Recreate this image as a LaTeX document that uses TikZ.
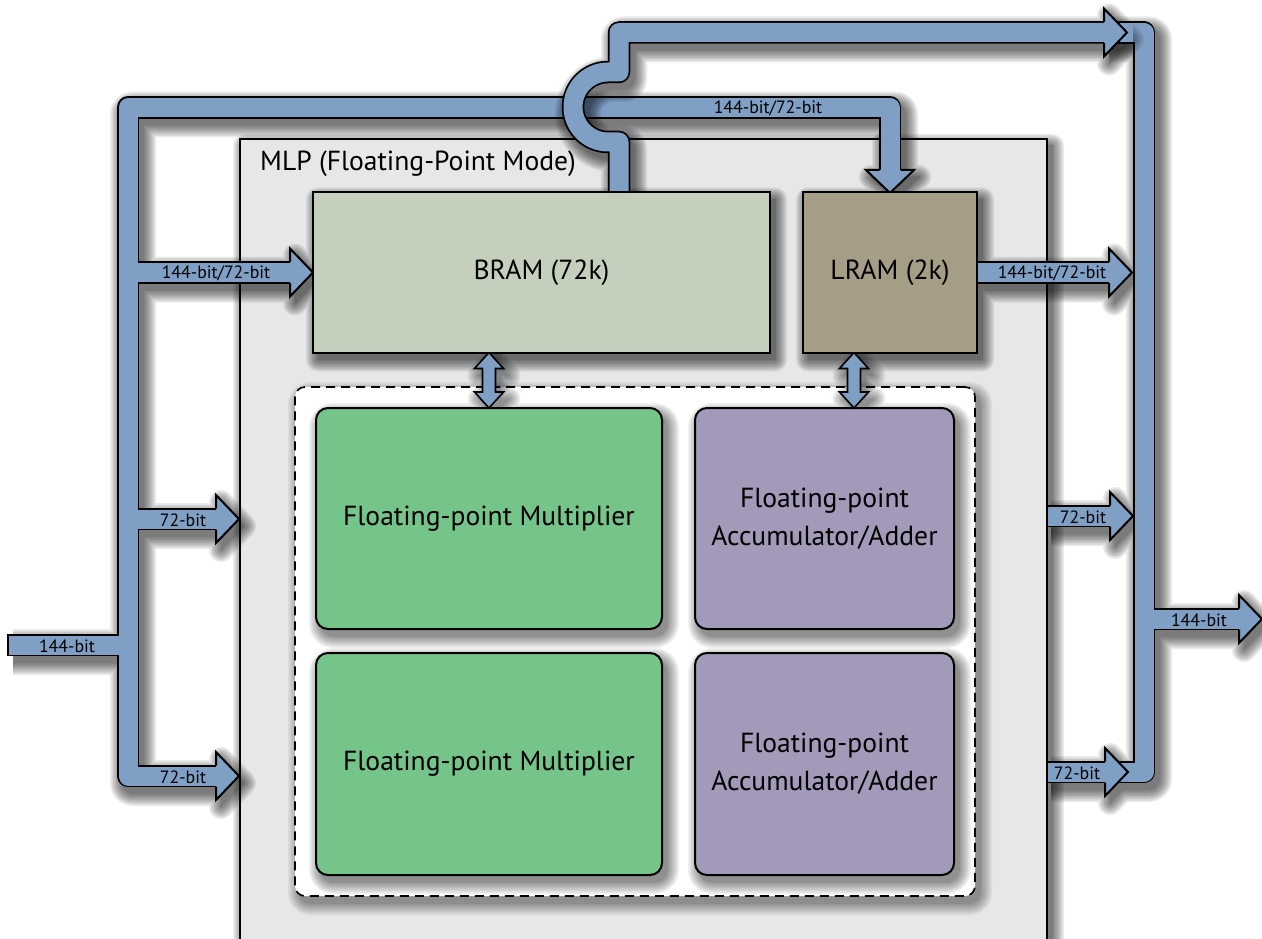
\documentclass[tikz,border=0pt]{standalone}
\usepackage{fontspec}
\setmainfont{PT Sans}
\definecolor{busblue}{RGB}{127,159,197}
\definecolor{mlpgray}{RGB}{230,231,232}
\definecolor{bramc}{RGB}{196,208,187}
\definecolor{lramc}{RGB}{165,157,134}
\definecolor{mulc}{RGB}{117,196,138}
\definecolor{accc}{RGB}{162,154,184}
\tikzset{
  casing/.style={draw=black,line width=22.5pt,line join=round},
  busfill/.style={draw=busblue,line width=19pt,line join=round},
  lbl/.style={font=\fontsize{17.8}{19}\selectfont,inner sep=0pt,text=black},
  big/.style={font=\fontsize{27.6}{38}\selectfont,align=center,text=black,inner sep=0pt},
  blockbox/.style={draw=black,line width=2pt,outer sep=0pt,big},
  fubox/.style={blockbox,rounded corners=12pt},
  pics/rhead/.style={code={
    \fill[busblue] (-23,-24) -- (0,0) -- (-23,24) -- cycle;
    \draw[black,line width=2pt,line join=miter] (-23,-10.5) -- (-23,-24) -- (0,0) -- (-23,24) -- (-23,10.5);}},
  pics/dhead/.style={code={
    \fill[busblue] (-24,-23) -- (0,0) -- (24,-23) -- cycle;
    \draw[black,line width=2pt,line join=miter] (-10.5,-23) -- (-24,-23) -- (0,0) -- (24,-23) -- (10.5,-23);}},
  pics/rheadsdw/.style={code={\path[sdwshape] (-23,-24) -- (0,0) -- (-23,24) -- cycle;}},
  pics/dheadsdw/.style={code={\path[sdwshape] (-24,-23) -- (0,0) -- (24,-23) -- cycle;}},
  pics/vdbl/.style={code={\filldraw[fill=busblue,draw=black,line width=1.6pt,line join=miter]
    (0,0) -- (14.5,16) -- (6.5,16) -- (6.5,39.5) -- (14.5,39.5) -- (0,55.5) -- (-14.5,39.5) -- (-6.5,39.5) -- (-6.5,16) -- (-14.5,16) -- cycle;}},
  pics/vdblsdw/.style={code={\path[sdwshape]
    (0,0) -- (14.5,16) -- (6.5,16) -- (6.5,39.5) -- (14.5,39.5) -- (0,55.5) -- (-14.5,39.5) -- (-6.5,39.5) -- (-6.5,16) -- (-14.5,16) -- cycle;}},
}
\newcommand\shadowpass[2][0.08]{%
  \foreach \e in {0,1.5,...,12}{%
    \begin{scope}[transparency group,opacity=#1,shift={(5,7)}]
      \tikzset{sdwbus/.style={draw=black,line width=22pt+2*\e pt,line join=round},
               sdwshape/.style={fill=black,draw=black,line width=2*\e pt,line join=round}}
      #2
    \end{scope}}}
\def\pathA{(218,776) -- (128,776) -- (128,107.5) -- (890,107.5) -- (890,171)}
\def\pathB{(619,192) -- (619,142) -- (608,142) arc[start angle=90,end angle=270,radius=35] -- (619,72) -- (619,32.5) -- (1104.5,32.5)}
\def\pathC{(1104,32.5) -- (1144,32.5) -- (1144,772) -- (1104,772)}
\begin{document}
\begin{tikzpicture}[x=1pt,y=-1pt]
\useasboundingbox (0,0) rectangle (1262,939);
\clip (0,0) rectangle (1262,939);

% ---------- MLP block ----------
\shadowpass{\path[sdwshape] (240,139) rectangle (1047,980);}
\node[blockbox,fill=mlpgray,minimum width=807,minimum height=840,anchor=north west] (mlp) at (240,139) {};
\node[big,anchor=west] (mlplbl) at (260,164) {MLP (Floating-Point Mode)};

% ---------- dashed functional-unit region ----------
\shadowpass[0.05]{\path[sdwshape,rounded corners=10pt] (295,387) rectangle (975,896);}
\node[draw=black,fill=white,line width=1.6pt,dash pattern=on 9pt off 6pt,rounded corners=10pt,
      minimum width=680,minimum height=509,inner sep=0pt] (fu) at (635,641.5) {};

% ---------- functional units ----------
\shadowpass[0.06]{
  \path[sdwshape,rounded corners=12pt] (316,408) rectangle (662,629);
  \path[sdwshape,rounded corners=12pt] (316,653) rectangle (662,875);
  \path[sdwshape,rounded corners=12pt] (695,408) rectangle (954,629);
  \path[sdwshape,rounded corners=12pt] (695,653) rectangle (954,875);
  \pic at (489,352.5) {vdblsdw};
  \pic at (854,352.5) {vdblsdw};
}
\node[fubox,fill=mulc,minimum width=346,minimum height=221] (mul1) at (489,518.5) {Floating-point Multiplier};
\node[fubox,fill=mulc,minimum width=346,minimum height=222] (mul2) at (489,764) {Floating-point Multiplier};
\node[fubox,fill=accc,minimum width=259,minimum height=221] (acc1) at (824.5,518.5) {Floating-point\\Accumulator/Adder};
\node[fubox,fill=accc,minimum width=259,minimum height=222] (acc2) at (824.5,764) {Floating-point\\Accumulator/Adder};

% ---------- shadows of buses and memories ----------
\shadowpass{
  \draw[sdwbus] \pathA;
  \draw[sdwbus] (8,645) -- (128,645) (128,272.5) -- (291,272.5) (128,519) -- (217,519);
  \pic at (313,272.5) {rheadsdw};
  \pic at (239,519) {rheadsdw};
  \pic at (239,776) {rheadsdw};
  \pic at (890,193) {dheadsdw};
  \draw[sdwbus] \pathC;
  \draw[sdwbus] (1144,619) -- (1240,619) (1046,516) -- (1110,516) (977,272.5) -- (1109,272.5) (1046,772) -- (1105,772);
  \pic at (1132,272.5) {rheadsdw};
  \pic at (1133,516) {rheadsdw};
  \pic at (1128,772) {rheadsdw};
  \pic at (1262,619) {rheadsdw};
  \path[sdwshape] (313,192.5) rectangle (770,352.5);
  \path[sdwshape] (803,192.5) rectangle (977,352.5);
}

% ---------- left input bus ----------
\draw[casing] \pathA;
\draw[casing] (6.5,645) -- (128,645) (128,272.5) -- (291,272.5) (128,519) -- (217,519);
\draw[busfill] \pathA;
\draw[busfill] (8.5,645) -- (128,645) (128,272.5) -- (291,272.5) (128,519) -- (217,519);
\pic (hbram) at (313,272.5) {rhead};
\pic (h72a) at (239,519) {rhead};
\pic (h72b) at (239,776) {rhead};
\pic (hlram) at (890,193) {dhead};

% ---------- BRAM output bus with hop ----------
\shadowpass{
  \draw[sdwbus] \pathB;
  \pic at (1127,32.5) {rheadsdw};
}
\draw[casing] \pathB;
\draw[busfill] \pathB;

% ---------- right output bus ----------
\draw[casing] \pathC;
\draw[casing] (1144,619) -- (1240,619) (1046,516) -- (1110,516) (977,272.5) -- (1109,272.5) (1046,772) -- (1105,772);
\draw[busfill] \pathC;
\draw[busfill] (1144,619) -- (1240,619) (1048,516) -- (1110,516) (977,272.5) -- (1109,272.5) (1048,772) -- (1105,772);
\begin{scope}
  \clip (1133,22) rectangle (1156,70);
  \shadowpass[0.06]{\pic at (1127,32.5) {rheadsdw};}
\end{scope}
\pic (hout1) at (1132,272.5) {rhead};
\pic (hout2) at (1133,516) {rhead};
\pic (hout3) at (1128,772) {rhead};
\pic (hout) at (1262,619) {rhead};
\pic (htop) at (1127,32.5) {rhead};

% ---------- memory <-> units ----------
\pic (dbl1) at (489,352.5) {vdbl};
\pic (dbl2) at (854,352.5) {vdbl};

% ---------- memories ----------
\node[blockbox,fill=bramc,minimum width=457,minimum height=160] (bram) at (541.5,272.5) {BRAM (72k)};
\node[blockbox,fill=lramc,minimum width=174,minimum height=160] (lram) at (890,272.5) {LRAM (2k)};

% ---------- bus labels ----------
\node[lbl] (t1) at (67,646) {144-bit};
\node[lbl] (t2) at (216,273) {144-bit/72-bit};
\node[lbl] (t3) at (183,520) {72-bit};
\node[lbl] (t4) at (183,777) {72-bit};
\node[lbl] (t5) at (768,108) {144-bit/72-bit};
\node[lbl] (t6) at (1052,273) {144-bit/72-bit};
\node[lbl] (t7) at (1083,517) {72-bit};
\node[lbl] (t8) at (1077,773) {72-bit};
\node[lbl] (t9) at (1199,620) {144-bit};
\end{tikzpicture}
\end{document}
